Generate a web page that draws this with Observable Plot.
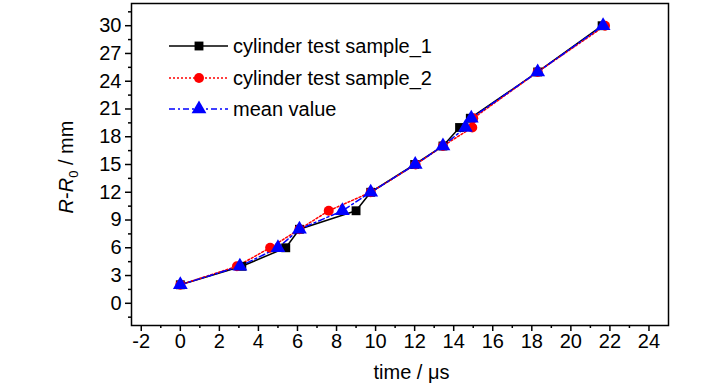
<!DOCTYPE html>
<html><head><meta charset="utf-8">
<script src="https://cdn.jsdelivr.net/npm/d3@7"></script>
<script src="https://cdn.jsdelivr.net/npm/@observablehq/plot@0.6"></script>
<style>body{margin:0;background:#fff;}</style>
</head><body><div id="chart"></div>
<script>
// ---- data ----
const seriesNames = ["cylinder test sample_1", "cylinder test sample_2", "mean value"];
const displacement = [2, 4, 6, 8, 10, 12, 15, 17, 19, 20, 25, 30];            // R-R0 / mm
const timeSample1 = [0, 3.15, 5.4, 6.1, 9.0, 9.75, 12.0, 13.45, 14.3, 14.85, 18.3, 21.6];  // µs
const timeSample2 = [0, 2.9, 4.6, 6.1, 7.6, 9.75, 12.05, 13.45, 14.95, 15.0, 18.3, 21.75];
const timeMean    = [0, 3.05, 5.0, 6.1, 8.3, 9.75, 12.03, 13.45, 14.6, 14.9, 18.3, 21.65];
const xTickLabels = [-2, 0, 2, 4, 6, 8, 10, 12, 14, 16, 18, 20, 22, 24];
const xMinorTicks = [-1, 1, 3, 5, 7, 9, 11, 13, 15, 17, 19, 21, 23];
const yTickLabels = [0, 3, 6, 9, 12, 15, 18, 21, 24, 27, 30];
const yMinorTicks = [-1.5, 1.5, 4.5, 7.5, 10.5, 13.5, 16.5, 19.5, 22.5, 25.5, 28.5, 31.5];

const styles = [
  {color: "black", dash: null, symbol: "square", r: 5},
  {color: "#ff0000", dash: "2,2", symbol: "circle", r: 5},
  {color: "#0000ff", dash: "6,3,2,3", symbol: "triangle", r: 5.5}
];
const times = [timeSample1, timeSample2, timeMean];
const rows = times.map((ts, i) => ts.map((t, j) => ({series: seriesNames[i], t, v: displacement[j]})));

const FONT = "'Liberation Sans', Arial, sans-serif";
const W = 728, H = 390, ML = 131, MR = 60, MT = 3, MB = 65;

const marks = [];
rows.forEach((data, i) => {
  marks.push(Plot.line(data, {x: "t", y: "v", stroke: styles[i].color, strokeWidth: 1.5,
    strokeDasharray: styles[i].dash}));
});
rows.forEach((data, i) => {
  marks.push(Plot.dot(data, {x: "t", y: "v", symbol: () => styles[i].symbol, r: styles[i].r,
    fill: styles[i].color, stroke: "none"}));
});

const chart = Plot.plot({
  width: W, height: H,
  marginLeft: ML, marginRight: MR, marginTop: MT, marginBottom: MB,
  style: {fontFamily: FONT, fontSize: "20px", color: "black", background: "white"},
  x: {domain: [-2.5, 25]},
  y: {domain: [-2.4, 32.4]},
  marks: [
    ...marks,
    Plot.frame({stroke: "black", strokeWidth: 1.5}),
    Plot.axisX({ticks: xTickLabels, tickSize: 6, tickPadding: 2, strokeWidth: 1.5,
      tickFormat: d => String(d), label: null, fontSize: 20}),
    Plot.axisX({ticks: xMinorTicks, tickSize: 3, strokeWidth: 1.5, tickFormat: () => "", label: null}),
    Plot.axisY({ticks: yTickLabels, tickSize: 6, tickPadding: 4, strokeWidth: 1.5,
      tickFormat: d => String(d), label: null, fontSize: 20}),
    Plot.axisY({ticks: yMinorTicks, tickSize: 3, strokeWidth: 1.5, tickFormat: () => "", label: null})
  ]
});

const svg = d3.select(chart);
// axis titles
svg.append("text").attr("x", (ML + (W - MR)) / 2 + 12).attr("y", 379)
  .attr("text-anchor", "middle").attr("font-family", FONT).attr("font-size", 20)
  .attr("fill", "black").text("time / μs");
const yl = svg.append("text").attr("transform", "translate(73,167) rotate(-90)")
  .attr("text-anchor", "middle").attr("font-family", FONT).attr("font-size", 20).attr("fill", "black");
yl.append("tspan").attr("font-style", "italic").text("R");
yl.append("tspan").text("-");
yl.append("tspan").attr("font-style", "italic").text("R");
yl.append("tspan").attr("font-size", 13).attr("dy", 5).text("0");
yl.append("tspan").attr("dy", -5).text(" / mm");

// legend
const legendY = [46, 78, 109];
const lg = svg.append("g").attr("text-anchor", "start");
seriesNames.forEach((name, i) => {
  const s = styles[i];
  lg.append("line").attr("x1", 169).attr("x2", 228).attr("y1", legendY[i]).attr("y2", legendY[i])
    .attr("stroke", s.color).attr("stroke-width", 1.5).attr("stroke-dasharray", s.dash);
  const sym = {square: d3.symbolSquare, circle: d3.symbolCircle, triangle: d3.symbolTriangle}[s.symbol];
  lg.append("path").attr("d", d3.symbol(sym, Math.PI * s.r * s.r)())
    .attr("transform", `translate(199,${legendY[i]})`).attr("fill", s.color);
  lg.append("text").attr("x", 233).attr("y", legendY[i] + 7).attr("text-anchor", "start")
    .attr("font-family", FONT).attr("font-size", 20).attr("fill", "black").text(name);
});

document.getElementById("chart").appendChild(chart);
</script>
</body></html>
